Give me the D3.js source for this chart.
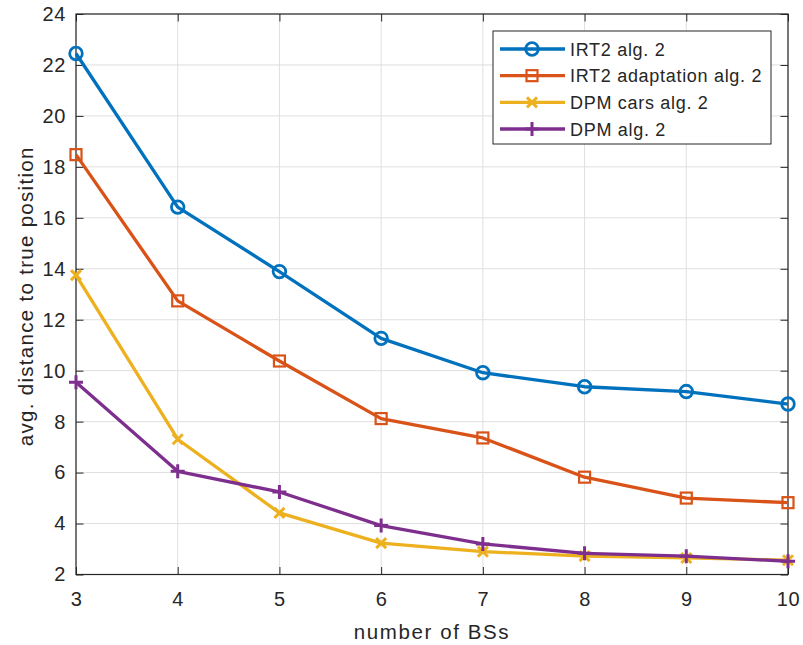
<!DOCTYPE html>
<html>
<head>
<meta charset="utf-8">
<script src="https://cdn.jsdelivr.net/npm/d3@7"></script>
<style>
  body { margin: 0; background: #fff; }
  svg text { font-family: "Liberation Sans", Arial, Helvetica, sans-serif; fill: #262626; }
</style>
</head>
<body>
<div id="main"></div>
<script>
var width = 803,
    height = 645;

// data
var numBS = [3, 4, 5, 6, 7, 8, 9, 10];
var irt2 = [22.45, 16.42, 13.89, 11.27, 9.92, 9.37, 9.18, 8.69];
var irt2Adapt = [18.48, 12.74, 10.38, 8.12, 7.36, 5.82, 5.0, 4.82];
var dpmCars = [13.75, 7.31, 4.42, 3.23, 2.9, 2.72, 2.65, 2.56];
var dpm = [9.55, 6.05, 5.24, 3.92, 3.2, 2.83, 2.72, 2.52];
var yTicks = [2, 4, 6, 8, 10, 12, 14, 16, 18, 20, 22, 24];
var seriesNames = ["IRT2 alg. 2", "IRT2 adaptation alg. 2", "DPM cars alg. 2", "DPM alg. 2"];
var seriesColors = ["#0072BD", "#D95319", "#EDB120", "#7E2F8E"];
var seriesMarkers = ["circle", "square", "x", "plus"];

var series = [irt2, irt2Adapt, dpmCars, dpm].map(function(vals, i) {
  return { name: seriesNames[i], color: seriesColors[i], marker: seriesMarkers[i],
           values: vals.map(function(v, j) { return { x: numBS[j], y: v }; }) };
});

// plot box
var pLeft = 76, pRight = 788, pTop = 14, pBottom = 574.5;

var x = d3.scaleLinear().domain([3, 10]).range([pLeft, pRight]);
var y = d3.scaleLinear().domain([2, 24]).range([pBottom, pTop]);

var svg = d3.select("#main").append("svg")
    .attr("width", width)
    .attr("height", height);

// grid
var grid = svg.append("g").attr("class", "grid");
grid.selectAll("line.gx")
    .data(numBS)
    .enter().append("line")
    .attr("x1", function(d) { return x(d); })
    .attr("x2", function(d) { return x(d); })
    .attr("y1", pTop).attr("y2", pBottom)
    .attr("stroke", "#dfdfdf").attr("stroke-width", 1);
grid.selectAll("line.gy")
    .data(yTicks)
    .enter().append("line")
    .attr("y1", function(d) { return y(d); })
    .attr("y2", function(d) { return y(d); })
    .attr("x1", pLeft).attr("x2", pRight)
    .attr("stroke", "#dfdfdf").attr("stroke-width", 1);

// axes (ticks inside, box on)
var tickLen = 7.5;
function styleAxis(g) {
  g.select(".domain").remove();
  g.selectAll(".tick line").attr("stroke", "#262626");
  g.selectAll(".tick text").style("font-size", "20px").style("letter-spacing", "0.6px").attr("fill", "#262626");
}
svg.append("g")
    .attr("transform", "translate(0," + pBottom + ")")
    .call(d3.axisBottom(x).tickValues(numBS).tickFormat(d3.format("d")).tickSizeInner(-tickLen).tickPadding(17))
    .call(styleAxis);
svg.append("g")
    .attr("transform", "translate(0," + pTop + ")")
    .call(d3.axisTop(x).tickValues(numBS).tickFormat("").tickSizeInner(-tickLen))
    .call(styleAxis);
svg.append("g")
    .attr("transform", "translate(" + pLeft + ",0)")
    .call(d3.axisLeft(y).tickValues(yTicks).tickFormat(d3.format("d")).tickSizeInner(-tickLen).tickPadding(10))
    .call(styleAxis);
svg.append("g")
    .attr("transform", "translate(" + pRight + ",0)")
    .call(d3.axisRight(y).tickValues(yTicks).tickFormat("").tickSizeInner(-tickLen))
    .call(styleAxis);

svg.append("rect")
    .attr("x", pLeft).attr("y", pTop)
    .attr("width", pRight - pLeft).attr("height", pBottom - pTop)
    .attr("fill", "none").attr("stroke", "#262626").attr("stroke-width", 1.2);

// axis labels
svg.append("text")
    .attr("x", (pLeft + pRight) / 2).attr("y", 639)
    .attr("text-anchor", "middle")
    .style("font-size", "20.5px").style("letter-spacing", "1.6px")
    .text("number of BSs");
svg.append("text")
    .attr("transform", "translate(33," + ((pTop + pBottom) / 2 + 2) + ")rotate(-90)")
    .attr("text-anchor", "middle")
    .style("font-size", "20.5px").style("letter-spacing", "1.3px")
    .text("avg. distance to true position");

// markers
function drawMarker(g, type, color) {
  if (type === "circle") {
    g.append("circle").attr("r", 6.3).attr("fill", "none")
      .attr("stroke", color).attr("stroke-width", 2.8);
  } else if (type === "square") {
    g.append("rect").attr("x", -5.5).attr("y", -5.5).attr("width", 11).attr("height", 11)
      .attr("fill", "none").attr("stroke", color).attr("stroke-width", 2.2);
  } else if (type === "x") {
    g.append("path").attr("d", "M-5,-5L5,5M-5,5L5,-5")
      .attr("stroke", color).attr("stroke-width", 3).attr("fill", "none");
  } else {
    g.append("path").attr("d", "M-7,0L7,0M0,-7L0,7")
      .attr("stroke", color).attr("stroke-width", 3).attr("fill", "none");
  }
}

var line = d3.line()
    .x(function(d) { return x(d.x); })
    .y(function(d) { return y(d.y); });

series.forEach(function(s) {
  var g = svg.append("g");
  g.append("path")
    .datum(s.values)
    .attr("d", line)
    .attr("fill", "none")
    .attr("stroke", s.color)
    .attr("stroke-width", 3.3)
    .attr("stroke-linejoin", "round");
  g.selectAll("g.m")
    .data(s.values)
    .enter().append("g")
    .attr("transform", function(d) { return "translate(" + x(d.x) + "," + y(d.y) + ")"; })
    .each(function() { drawMarker(d3.select(this), s.marker, s.color); });
});

// legend
var legend = svg.append("g").attr("class", "legend");
legend.append("rect")
    .attr("x", 493).attr("y", 31)
    .attr("width", 278).attr("height", 113)
    .attr("fill", "#fff").attr("stroke", "#262626").attr("stroke-width", 1);
var rowY = d3.scaleLinear().domain([0, 3]).range([49, 129]);
series.forEach(function(s, i) {
  var g = legend.append("g").attr("transform", "translate(0," + rowY(i) + ")");
  g.append("line").attr("x1", 500).attr("x2", 565).attr("y1", 0).attr("y2", 0)
    .attr("stroke", s.color).attr("stroke-width", 3.3);
  drawMarker(g.append("g").attr("transform", "translate(532,0)"), s.marker, s.color);
  g.append("text")
    .attr("x", 570).attr("y", 6.5)
    .style("font-size", "18px").style("letter-spacing", "0.7px")
    .text(s.name);
});
</script>
</body>
</html>
